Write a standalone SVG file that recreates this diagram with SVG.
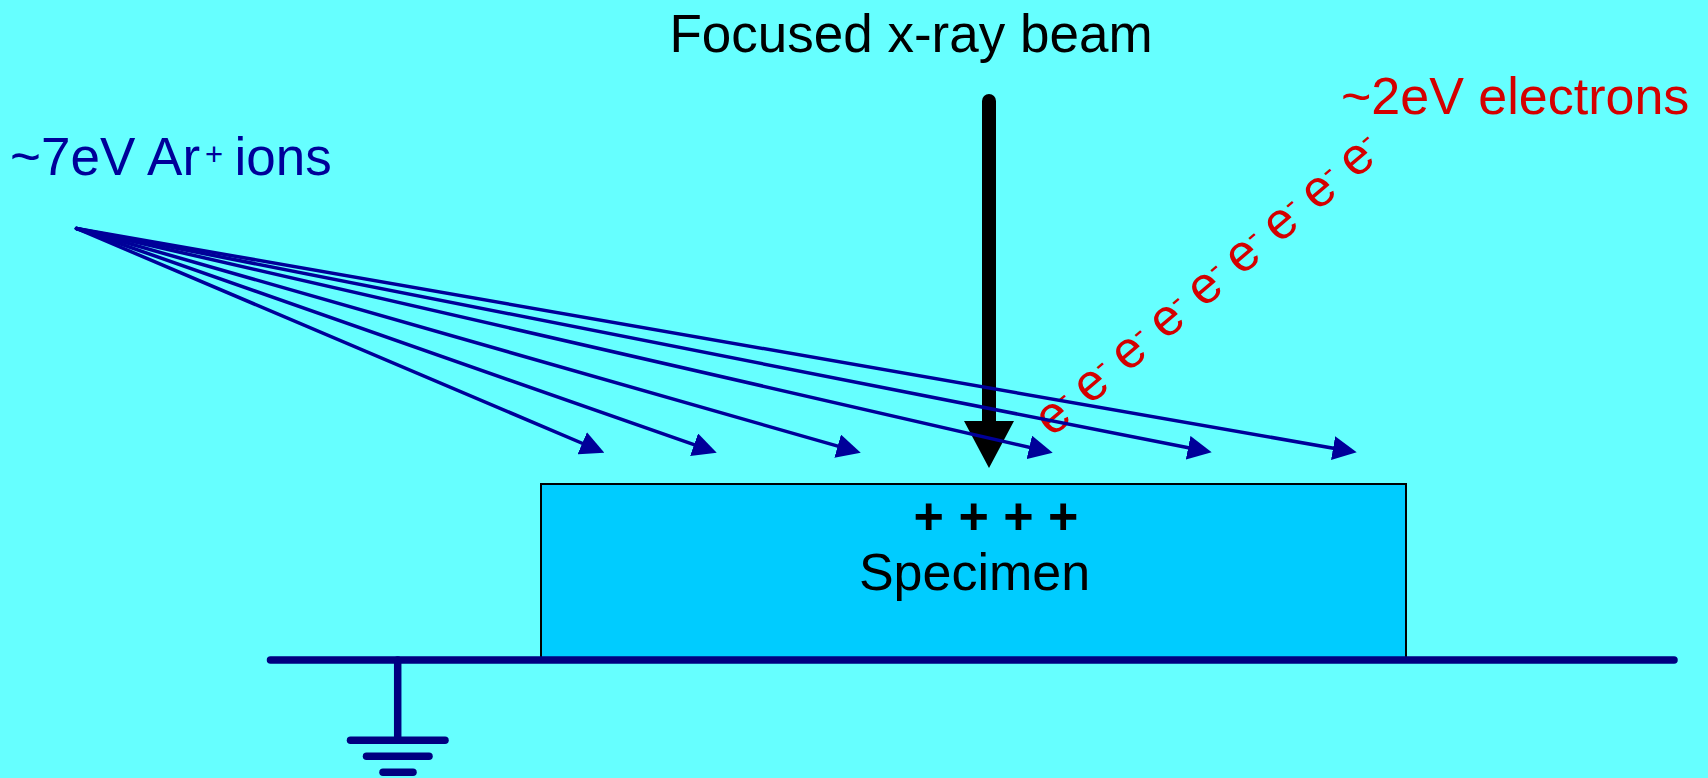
<svg xmlns="http://www.w3.org/2000/svg" width="1708" height="778" viewBox="0 0 1708 778">
<style>
text{font-family:"Liberation Sans",Arial,sans-serif}
.ion{stroke:#000099;stroke-width:3.5;fill:none;stroke-linecap:round;marker-end:url(#ah)}
.gnd{stroke:#000080;stroke-width:7.5;stroke-linecap:round;fill:none}
.el{fill:#D40000;font-size:52px}
.elsup{fill:#D40000;font-size:30px}
</style>
<defs>
<marker id="ah" markerUnits="userSpaceOnUse" viewBox="0 0 24 24" refX="12" refY="12" markerWidth="24" markerHeight="24" orient="auto">
<path d="M0,0 L24,12 L0,24 z" fill="#000099"/>
</marker>
</defs>
<rect x="0" y="0" width="1708" height="778" fill="#66FFFF"/>
<g id="specimen">
<rect x="541" y="484" width="865" height="176" fill="#00CCFF" stroke="#000000" stroke-width="2"/>
<text x="996" y="533.5" font-size="52" font-weight="bold" text-anchor="middle" fill="#000">+ + + +</text>
<text x="974.5" y="590" font-size="52" text-anchor="middle" fill="#000">Specimen</text>
</g>
<g id="ground">
<line class="gnd" x1="270.5" y1="660" x2="1674" y2="660"/>
<line class="gnd" x1="397.7" y1="660" x2="397.7" y2="740"/>
<line class="gnd" x1="350.5" y1="740.3" x2="445" y2="740.3"/>
<line class="gnd" x1="366.5" y1="756.3" x2="429" y2="756.3"/>
<line class="gnd" x1="383" y1="772.3" x2="413" y2="772.3"/>
</g>
<g id="electrons" transform="translate(1052,437.9) rotate(-40.4)">
<text class="el" x="0" y="0">e</text><text class="elsup" x="28.9" y="-15.7">-</text>
<text class="el" x="49.8" y="0">e</text><text class="elsup" x="78.7" y="-15.7">-</text>
<text class="el" x="99.6" y="0">e</text><text class="elsup" x="128.5" y="-15.7">-</text>
<text class="el" x="149.4" y="0">e</text><text class="elsup" x="178.3" y="-15.7">-</text>
<text class="el" x="199.2" y="0">e</text><text class="elsup" x="228.1" y="-15.7">-</text>
<text class="el" x="249" y="0">e</text><text class="elsup" x="277.9" y="-15.7">-</text>
<text class="el" x="298.8" y="0">e</text><text class="elsup" x="327.7" y="-15.7">-</text>
<text class="el" x="348.6" y="0">e</text><text class="elsup" x="377.5" y="-15.7">-</text>
<text class="el" x="398.4" y="0">e</text><text class="elsup" x="427.3" y="-15.7">-</text>
</g>
<g id="xray-beam">
<line x1="989" y1="101" x2="989" y2="425" stroke="#000" stroke-width="14" stroke-linecap="round"/>
<polygon points="964,421 1014,421 989,468" fill="#000"/>
</g>
<g id="connectors">
<line class="ion" x1="76.5" y1="228.5" x2="593.3" y2="448.0"/>
<line class="ion" x1="76.5" y1="228.5" x2="705.4" y2="448.7"/>
<line class="ion" x1="76.5" y1="228.5" x2="849.2" y2="449.4"/>
<line class="ion" x1="76.5" y1="228.5" x2="1041.0" y2="450.0"/>
<line class="ion" x1="76.5" y1="228.5" x2="1199.9" y2="450.0"/>
<line class="ion" x1="76.5" y1="228.5" x2="1344.9" y2="450.2"/>
</g>
<g id="labels">
<text x="911" y="52" font-size="53" text-anchor="middle" fill="#000">Focused x-ray beam</text>
<text y="175" font-size="53" fill="#000099"><tspan x="10">~7eV Ar</tspan><tspan x="205" y="164.5" font-size="31">+</tspan><tspan x="234.5" y="175">ions</tspan></text>
<text x="1341" y="114" font-size="52" fill="#D40000">~2eV electrons</text>
</g>
</svg>
